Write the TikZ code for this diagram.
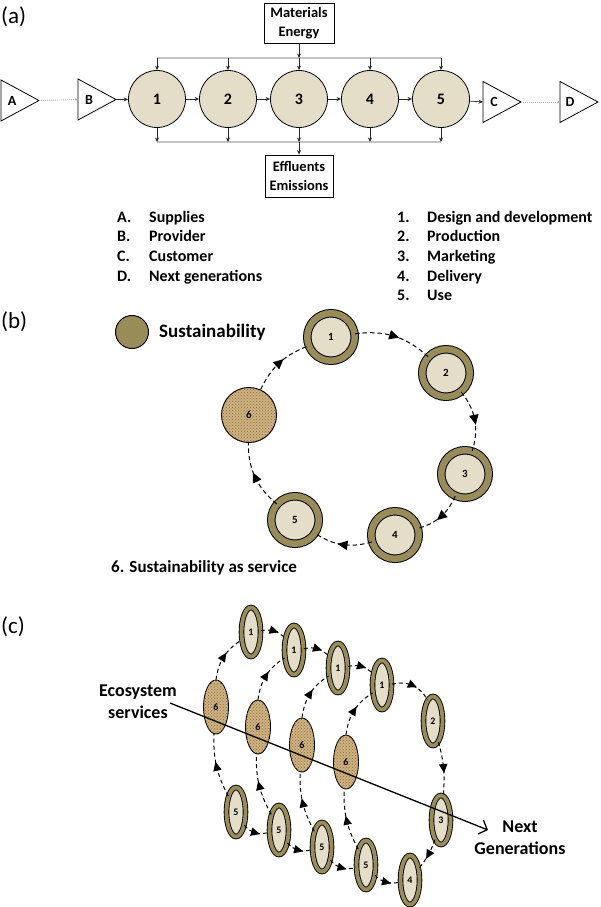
\documentclass[tikz,border=0pt]{standalone}
\usepackage{fontspec}
\setmainfont{Carlito}
\usetikzlibrary{arrows.meta,decorations.markings,patterns,shapes.geometric}
\definecolor{susolive}{RGB}{152,140,88}
\definecolor{inbeige}{RGB}{228,222,200}
\definecolor{sixtan}{RGB}{206,178,128}
\definecolor{sixdot}{RGB}{140,108,62}
\definecolor{busgray}{RGB}{195,195,195}
\begin{document}
\begin{tikzpicture}[x=1pt,y=1pt,
  tri/.style={draw, line width=0.8pt, isosceles triangle, isosceles triangle stretches,
    minimum width=41pt, minimum height=38pt, inner sep=0pt, outer sep=0pt, anchor=apex},
  lbl/.style={inner sep=0pt, font=\fontsize{14}{16}\selectfont\bfseries},
  circA/.style={circle, draw, line width=0.8pt, fill=inbeige, minimum size=57pt, inner sep=0pt,
    font=\fontsize{16}{19}\selectfont\bfseries},
  arrA/.style={-{Stealth[length=4.5pt,width=4pt]}, line width=0.7pt, draw=black!85},
  dotA/.style={draw=black!30, dash pattern=on 1pt off 1pt, line width=0.9pt, -{Stealth[length=3pt,width=3pt]}},
  bus/.style={draw=busgray, line width=1.3pt},
  boxA/.style={draw, line width=0.8pt, align=center, font=\fontsize{14.5}{18.5}\selectfont\bfseries,
    inner sep=0pt, minimum width=70pt, minimum height=40pt},
  lst/.style={anchor=base west, inner sep=0pt, font=\fontsize{16}{19}\selectfont\bfseries},
  panel/.style={anchor=west, inner sep=0pt, font=\fontsize{23}{27}\selectfont},
  ringB/.style={circle, draw, line width=1pt, double=susolive, double distance=6.5pt, fill=inbeige,
    minimum size=47.5pt, inner sep=0pt, font=\fontsize{11}{13}\selectfont\bfseries},
  sixB/.style={circle, draw, line width=1pt, fill=sixtan, postaction={pattern=crosshatch dots, pattern color=sixdot},
    minimum size=55pt, inner sep=0pt, font=\fontsize{11}{13}\selectfont\bfseries},
  ringC/.style={ellipse, draw, line width=0.9pt, double=susolive, double distance=3.8pt, fill=inbeige,
    minimum width=19pt, minimum height=49pt, inner sep=0pt, font=\fontsize{10}{12}\selectfont\bfseries},
  sixC/.style={ellipse, draw, line width=0.9pt, fill=sixtan, postaction={pattern=crosshatch dots, pattern color=sixdot},
    minimum width=25pt, minimum height=54pt, inner sep=0pt, font=\fontsize{10}{12}\selectfont\bfseries},
  flowB/.style={draw, dash pattern=on 4.5pt off 3pt, line width=1pt, postaction={decorate},
    decoration={markings, mark=at position 0.5 with {\fill[solid] (-5pt,-4.8pt) -- (5pt,0pt) -- (-5pt,4.8pt) -- cycle;}}},
  flowC/.style={draw, dash pattern=on 4pt off 3pt, line width=1pt, postaction={decorate},
    decoration={markings, mark=at position 0.5 with {\fill[solid] (-4.5pt,-4.3pt) -- (4.5pt,0pt) -- (-4.5pt,4.3pt) -- cycle;}}},
  bigtxt/.style={align=center, inner sep=0pt, font=\fontsize{18}{22}\selectfont\bfseries}
]
\useasboundingbox (0,0) rectangle (600,-907);

% ---------------- (a) ----------------
\node[panel] (pa) at (1,-17) {(a)};
\node[tri] (A) at (39,-100.5) {};
\node[lbl] (Al) at (12,-100.5) {A};
\node[tri] (B) at (116,-99.5) {};
\node[lbl] (Bl) at (89,-99.5) {B};
\node[tri] (C) at (521,-102) {};
\node[lbl] (Cl) at (494,-102) {C};
\node[tri] (D) at (598,-102) {};
\node[lbl] (Dl) at (570,-102) {D};

\foreach \i/\x in {1/157,2/228,3/299,4/370,5/441}
  \node[circA] (c\i) at (\x,-99) {\i};

\coordinate (tb1) at (157,-58);
\coordinate (tb5) at (441,-58);
\coordinate (bb1) at (157,-142);
\coordinate (bb5) at (441,-142);
\draw[bus] (tb1) -- (tb5);
\draw[bus] (bb1) -- (bb5);

\node[boxA] (mat) at (299,-23) {Materials\\Energy};
\node[boxA, minimum width=68pt, minimum height=42pt] (eff) at (299,-176) {Effluents\\Emissions};

\draw[arrA] (mat.south) -- (mat.south |- tb1);
\draw[arrA] (c3 |- bb1) -- (eff.north);
\foreach \i in {1,...,5} {
  \draw[arrA] (c\i |- tb1) -- (c\i.north);
  \draw[arrA] (c\i.south) -- (c\i |- bb1);
}
\draw[dotA] (A.apex) -- (B.west);
\draw[dotA] (C.apex) -- (D.west);
\draw[arrA] (B.apex) -- (c1);
\draw[arrA] (c1) -- (c2);
\draw[arrA] (c2) -- (c3);
\draw[arrA] (c3) -- (c4);
\draw[arrA] (c4) -- (c5);
\draw[arrA] (c5) -- (C.west);

% list
\node[lst] (la) at (117,-222) {A.};
\node[lst] (lat) at (149,-222) {Supplies};
\node[lst] (lb) at (117,-241.7) {B.};
\node[lst] (lbt) at (149,-241.7) {Provider};
\node[lst] (lc) at (117,-261.4) {C.};
\node[lst] (lct) at (149,-261.4) {Customer};
\node[lst] (ld) at (117,-281.1) {D.};
\node[lst] (ldt) at (149,-281.1) {Next generations};
\node[lst] (l1) at (397,-222) {1.};
\node[lst] (l1t) at (427,-222) {Design and development};
\node[lst] (l2) at (397,-241.7) {2.};
\node[lst] (l2t) at (427,-241.7) {Production};
\node[lst] (l3) at (397,-261.4) {3.};
\node[lst] (l3t) at (427,-261.4) {Marketing};
\node[lst] (l4) at (397,-281.1) {4.};
\node[lst] (l4t) at (427,-281.1) {Delivery};
\node[lst] (l5) at (397,-300.8) {5.};
\node[lst] (l5t) at (427,-300.8) {Use};

% ---------------- (b) ----------------
\node[panel] (pb) at (1,-322) {(b)};
\node[circle, draw, line width=1pt, fill=susolive, minimum size=33pt, inner sep=0pt] (leg) at (132,-332) {};
\node[anchor=base west, inner sep=0pt, font=\fontsize{19}{22}\selectfont\bfseries] (legt) at (159,-337) {Sustainability};

\node[ringB] (b1) at (331,-337) {1};
\node[ringB] (b2) at (446,-373) {2};
\node[ringB] (b3) at (465,-474) {3};
\node[ringB] (b4) at (395,-535) {4};
\node[ringB] (b5) at (295,-520) {5};
\node[sixB] (b6) at (249,-415) {6};

\draw[flowB] (b1) to[bend left=25] (b2);
\draw[flowB] (b2) to[bend left=28] (b3);
\draw[flowB] (b3) to[bend left=25] (b4);
\draw[flowB] (b4) to[bend left=25] (b5);
\draw[flowB] (b5) to[bend left=25] (b6);
\draw[flowB] (b6) to[bend left=22] (b1);

\node[anchor=base west, inner sep=0pt, font=\fontsize{17}{20}\selectfont\bfseries] (sas) at (111,-572) {6. Sustainability as service};

% ---------------- (c) ----------------
\node[panel] (pc) at (1,-627) {(c)};
\foreach \k/\ax/\ay/\bx/\by/\cx/\cy in {0/251/632/216/707/236/812, 1/294/650/258/727/279/830, 2/338/668/302/745/322/847, 3/382/685/346/762/366/865} {
  \node[ringC] (p\k) at (\ax,-\ay) {1};
  \node[sixC] (q\k) at (\bx,-\by) {6};
  \node[ringC] (r\k) at (\cx,-\cy) {5};
}
\node[ringC] (t2) at (433,-721) {2};
\node[ringC] (t3) at (441,-820) {3};
\node[ringC] (t4) at (410,-880) {4};

\foreach \k in {0,...,3} {
  \draw[flowC] (r\k) to[bend left=15] (q\k);
  \draw[flowC] (q\k) to[bend left=25] (p\k);
}
\foreach \k/\n in {0/1,1/2,2/3} {
  \draw[flowC] (p\k) to[bend left=30] (p\n);
  \draw[flowC] (r\k) to[bend right=35] (r\n);
}
\draw[flowC] (p3) to[bend left=40] (t2);
\draw[flowC] (t2) to[bend left=10] (t3);
\draw[flowC] (t3) to[bend left=10] (t4);
\draw[flowC] (r3) to[bend right=30] (t4);

\node[bigtxt] (eco) at (138,-702) {Ecosystem\\services};
\node[bigtxt] (ng) at (520,-838) {Next\\Generations};
\coordinate (es) at (170,-703);
\coordinate (ne) at (488,-830);
\draw[line width=1.3pt, -{Straight Barb[length=7pt,width=15pt]}] (es) -- (ne);

\end{tikzpicture}
\end{document}
